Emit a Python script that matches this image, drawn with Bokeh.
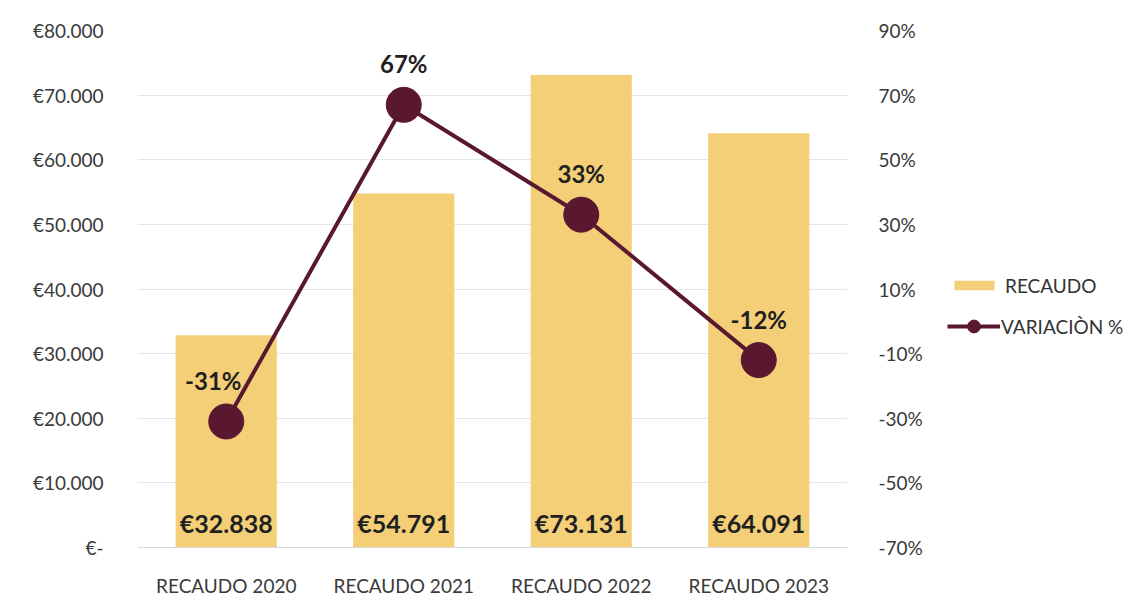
from bokeh.plotting import figure
from bokeh.models import (Range1d, LinearAxis, FixedTicker, ColumnDataSource,
                          Legend, LegendItem, FactorRange)
from bokeh.layouts import row
from bokeh.core.properties import value
from bokeh.embed import file_html
from bokeh.resources import INLINE

# ---- data ----
categories = ["RECAUDO 2020", "RECAUDO 2021", "RECAUDO 2022", "RECAUDO 2023"]
recaudo = [32838, 54791, 73131, 64091]
variacion = [-31, 67, 33, -12]
left_ticks = [0, 10000, 20000, 30000, 40000, 50000, 60000, 70000, 80000]
left_tick_labels = ["€-", "€10.000", "€20.000", "€30.000", "€40.000",
                    "€50.000", "€60.000", "€70.000", "€80.000"]
right_ticks = [-70, -50, -30, -10, 10, 30, 50, 70, 90]
right_tick_labels = ["-70%", "-50%", "-30%", "-10%", "10%", "30%", "50%", "70%", "90%"]
series_names = ["RECAUDO", "VARIACIÒN %"]
pct_label_dx = [-13, 0, 0, 0]

BAR = "#F4CF77"
LINE = "#5A1830"
TXT = "#3a3a3a"
FONT = "Lato"

src = ColumnDataSource(dict(
    cat=categories, val=recaudo, pct=variacion,
    val_lbl=["€" + f"{v:,}".replace(",", ".") for v in recaudo],
    pct_lbl=[f"{v}%" for v in variacion],
    dx=pct_label_dx,
))

p = figure(width=930, height=604, x_range=FactorRange(*categories, range_padding=0),
           y_range=Range1d(0, 80000), output_backend="svg", toolbar_location=None,
           min_border_left=137, min_border_right=83, min_border_top=30,
           min_border_bottom=57)
p.outline_line_color = None
p.extra_y_ranges = {"pct": Range1d(-70, 90)}

# grid
p.xgrid.grid_line_color = None
p.ygrid.ticker = FixedTicker(ticks=left_ticks)
p.ygrid.grid_line_color = "#e6e6e6"
p.ygrid.grid_line_width = 1

# left axis
ya = p.yaxis[0]
ya.ticker = FixedTicker(ticks=left_ticks)
ya.major_label_overrides = {t: l for t, l in zip(left_ticks, left_tick_labels)}
ya.axis_line_color = None
ya.major_tick_line_color = None
ya.minor_tick_line_color = None
ya.major_label_standoff = 28
ya.major_label_text_font = FONT
ya.major_label_text_font_size = "19px"
ya.major_label_text_color = TXT

# right axis
ra = LinearAxis(y_range_name="pct", ticker=FixedTicker(ticks=right_ticks))
ra.major_label_overrides = {t: l for t, l in zip(right_ticks, right_tick_labels)}
ra.axis_line_color = None
ra.major_tick_line_color = None
ra.minor_tick_line_color = None
ra.major_label_standoff = 25
ra.major_label_text_font = FONT
ra.major_label_text_font_size = "19px"
ra.major_label_text_color = TXT
p.add_layout(ra, "right")

# x axis
xa = p.xaxis[0]
xa.axis_line_color = "#d9d9d9"
xa.major_tick_line_color = None
xa.minor_tick_line_color = None
xa.major_label_standoff = 20
xa.major_label_text_font = FONT
xa.major_label_text_font_size = "19px"
xa.major_label_text_color = TXT

# bars
p.vbar(x="cat", top="val", width=0.57, source=src, fill_color=BAR, line_color=None)

# line + markers
p.line(x="cat", y="pct", source=src, y_range_name="pct", line_color=LINE, line_width=4)
p.scatter(x="cat", y="pct", source=src, y_range_name="pct", size=35,
          fill_color=LINE, line_color=LINE)

# value labels
p.text(x="cat", y=0, text="val_lbl", source=src, y_offset=-25, text_align="center",
       text_baseline="middle", text_font=value(FONT), text_font_style="bold",
       text_font_size="25px", text_color="#1f1f1f")
p.text(x="cat", y="pct", text="pct_lbl", source=src, y_range_name="pct", y_offset=-41,
       x_offset="dx", text_align="center", text_baseline="middle", text_font=value(FONT),
       text_font_style="bold", text_font_size="24px", text_color="#1f1f1f")

# ---- legend panel (separate figure to the right) ----
lf = figure(width=217, height=604, x_range=Range1d(0, 1), y_range=Range1d(0, 1),
            output_backend="svg", toolbar_location=None,
            x_axis_location=None, y_axis_location=None,
            min_border_left=0, min_border_right=0, min_border_top=0, min_border_bottom=0)
lf.outline_line_color = None
lf.xgrid.visible = False
lf.ygrid.visible = False
# legend proxies (hidden renderers sharing the same data)
lbar = lf.vbar(x="pct", top="val", width=0.5, source=src, fill_color=BAR, line_color=None,
               visible=False)
lline = lf.line(x="pct", y="val", source=src, line_color=LINE, line_width=4, visible=False)
lmk = lf.scatter(x="pct", y="val", source=src, fill_color=LINE, line_color=LINE,
                 visible=False)

leg1 = Legend(items=[LegendItem(label=series_names[0], renderers=[lbar])],
              location=(19, 250), glyph_width=50, glyph_height=12, label_height=24,
              padding=0, margin=0, border_line_color=None, background_fill_alpha=0,
              label_text_font=FONT, label_text_font_size="19px", label_text_color="#333333",
              label_standoff=6)
leg2 = Legend(items=[LegendItem(label=series_names[1], renderers=[lline, lmk])],
              location=(17, 205), glyph_width=53, glyph_height=32, label_height=24,
              padding=0, margin=0, border_line_color=None, background_fill_alpha=0,
              label_text_font=FONT, label_text_font_size="19px", label_text_color="#333333",
              label_standoff=1)
lf.add_layout(leg1, "center")
lf.add_layout(leg2, "center")

layout = row(p, lf, spacing=0)
open("out.html", "w").write(file_html(layout, INLINE))
